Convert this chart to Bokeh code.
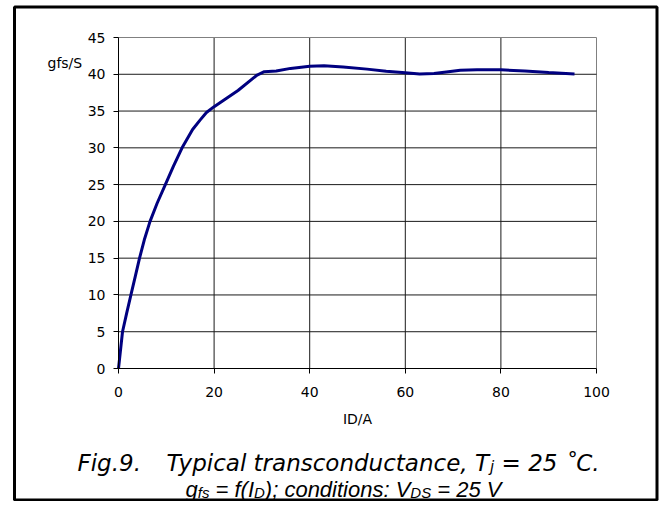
from bokeh.plotting import figure
from bokeh.models import Range1d, FixedTicker, Label, BoxAnnotation
from bokeh.embed import file_html
from bokeh.resources import INLINE

# ---- data ----
id_a = [0, 0.84, 1.7, 2.6, 3.5, 4.4, 5.4, 6.6, 8.1, 9.8, 11.5, 13.3, 15.5, 17.1, 18.4, 20.0,
        25.0, 29.0, 30.5, 33.0, 36.0, 40.0, 43.0, 47.0, 52.0, 56.0, 60.0, 63.0, 66.0,
        69.0, 71.5, 75.0, 80.0, 85.0, 90.0, 95.4]
gfs_s = [0, 5.0, 7.5, 10.0, 12.5, 15.0, 17.5, 20.0, 22.5, 25.0, 27.5, 30.0, 32.5, 33.8, 34.8, 35.6,
         37.8, 39.9, 40.35, 40.45, 40.8, 41.1, 41.15, 41.0, 40.7, 40.4, 40.2, 40.05, 40.1,
         40.35, 40.55, 40.6, 40.6, 40.45, 40.25, 40.05]
x_ticks = [0, 20, 40, 60, 80, 100]
y_ticks = [0, 5, 10, 15, 20, 25, 30, 35, 40, 45]
x_label = "ID/A"
y_label = "gfs/S"

W, H = 659, 501
# plot area in canvas pixels
PL, PR, PT, PB = 118, 596, 37, 368
XMAX, YMAX = 100, 45
SX = (PR - PL) / XMAX
SY = (PB - PT) / YMAX

def dx(px):
    return (px - PL) / SX

def dy(py):
    return (PB - py) / SY

p = figure(width=W, height=H, output_backend="svg", toolbar_location=None,
           x_range=Range1d(dx(0), dx(W)), y_range=Range1d(dy(H), dy(0)),
           min_border_left=0, min_border_right=0, min_border_top=0, min_border_bottom=0)
p.background_fill_color = "white"
p.border_fill_color = "white"
p.outline_line_color = None
p.xgrid.visible = False
p.ygrid.visible = False

# grid lines limited to the plot area, drawn from the tick values
gx = x_ticks[1:]
gy = y_ticks[1:]
p.segment(x0=gx, y0=[0] * len(gx), x1=gx, y1=[YMAX] * len(gx),
          line_color=["#1a1a1a"] * (len(gx) - 1) + ["#808080"], line_width=1)
p.segment(x0=[0] * len(gy), y0=gy, x1=[XMAX] * len(gy), y1=gy,
          line_color=["#1a1a1a"] * (len(gy) - 1) + ["#808080"], line_width=1)

for ax, bnd, tk in ((p.xaxis[0], (0, XMAX), x_ticks), (p.yaxis[0], (0, YMAX), y_ticks)):
    ax.fixed_location = 0
    ax.bounds = bnd
    ax.ticker = FixedTicker(ticks=tk)
    ax.axis_line_color = "black"
    ax.axis_line_width = 1
    ax.major_tick_in = 0
    ax.major_tick_out = 5
    ax.major_tick_line_color = "black"
    ax.minor_tick_line_color = None
    ax.major_label_text_font = "DejaVu Sans"
    ax.major_label_text_font_size = "14px"
    ax.major_label_text_color = "black"
p.xaxis.major_label_standoff = 13
p.yaxis.major_label_standoff = 8
p.xaxis.axis_label = x_label
p.xaxis.axis_label_text_font = "DejaVu Sans"
p.xaxis.axis_label_text_font_style = "normal"
p.xaxis.axis_label_text_font_size = "14px"
p.xaxis.axis_label_text_color = "black"
p.xaxis.axis_label_standoff = 11

p.line(id_a, gfs_s, line_color="#000080", line_width=3)

YOFF = -5  # compensates for rendered baseline offset

def lab(text, x, y, size, font="DejaVu Sans", italic=False):
    p.add_layout(Label(x=dx(x), y=dy(y + YOFF), text=text,
                       text_font=font, text_font_style="italic" if italic else "normal",
                       text_font_size=f"{size}px", text_baseline="alphabetic",
                       text_align="left", text_color="black"))

lab(y_label, 47, 67, 14)

# outer border box
p.add_layout(BoxAnnotation(left=dx(14), right=dx(656.5), top=dy(6.5), bottom=dy(499.5),
                           fill_alpha=0, line_color="black", line_alpha=1, line_width=3,
                           level="overlay"))

# caption
DJ = {' ': 0.318, '(': 0.390, ')': 0.390, ',': 0.318, '.': 0.318, ':': 0.337, ';': 0.337,
      '=': 0.838, 'C': 0.698, 'D': 0.770, 'F': 0.575, 'I': 0.295, 'S': 0.635, 'T': 0.611,
      'V': 0.684, 'a': 0.613, 'c': 0.550, 'd': 0.635, 'e': 0.615, 'f': 0.352, 'g': 0.635,
      'i': 0.278, 'j': 0.278, 'l': 0.278, 'n': 0.634, 'o': 0.612, 'p': 0.635, 'r': 0.411,
      's': 0.521, 't': 0.392, 'u': 0.634, 'y': 0.592, '\u02da': 0.5}
AR = {' ': 0.278, '(': 0.333, ')': 0.333, ',': 0.278, '.': 0.278, ':': 0.278, ';': 0.278,
      '=': 0.584, 'C': 0.722, 'D': 0.722, 'F': 0.611, 'I': 0.278, 'S': 0.667, 'T': 0.611,
      'V': 0.667, 'a': 0.556, 'c': 0.5, 'd': 0.556, 'e': 0.556, 'f': 0.278, 'g': 0.556,
      'i': 0.222, 'j': 0.222, 'l': 0.222, 'n': 0.556, 'o': 0.556, 'p': 0.556, 'r': 0.333,
      's': 0.5, 't': 0.278, 'u': 0.556, 'y': 0.5, '\u02da': 0.333}

def tw(s, size, table):
    return sum(table.get(c, 0.556 if table is AR else 0.636) for c in s) * size

def put(text, x, base, size, font, table):
    lead = len(text) - len(text.lstrip(" "))
    x += tw(text[:lead], size, table)
    body = text.lstrip(" ")
    lab(body, x, base, size, font=font, italic=True)
    return x + tw(body, size, table)

# line 1
F1, S1 = 23, 15
b1 = 467
put("Fig.9.", 77, b1, F1, "DejaVu Sans", DJ)
x = put("Typical transconductance, T", 166, b1, F1, "DejaVu Sans", DJ)
x = put("j", x - 1, b1 + 4, S1, "DejaVu Sans", DJ)
put(" = 25 \u02da" + "C.", x, b1, F1, "DejaVu Sans", DJ)

# line 2
F2, S2 = 22, 15
b2 = 494
parts = [("g", 0), ("fs", 1), (" = f(I", 0), ("D", 1), ("); conditions: V", 0), ("DS", 1), (" = 25 V", 0)]
total = sum(tw(t, S2 if s else F2, AR) for t, s in parts)
x = 343 - total / 2
for t, s in parts:
    x = put(t, x, b2 + (3 if s else 0), S2 if s else F2, "Liberation Sans", AR)

open("out.html", "w").write(file_html(p, INLINE))
